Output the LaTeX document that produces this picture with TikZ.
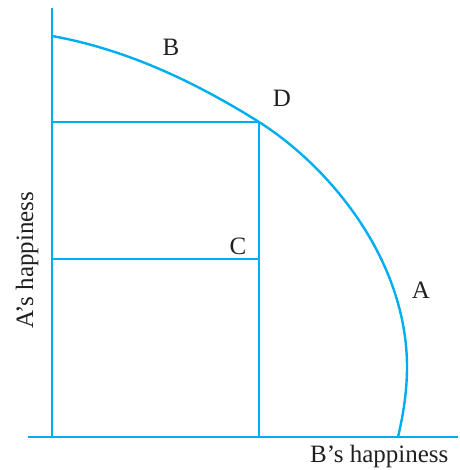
\documentclass[tikz,border=0pt]{standalone}
\usepackage{fontspec}
\setmainfont{Liberation Serif}
\definecolor{lineblue}{HTML}{00AEEF}
\definecolor{txt}{HTML}{231F20}
\begin{document}
\begin{tikzpicture}[x=1pt,y=-1pt,
  axis/.style={draw=lineblue,line width=2.4pt},
  lbl/.style={text=txt,font=\fontsize{25}{30}\selectfont,inner sep=0pt,anchor=base}]
\useasboundingbox (0,0) rectangle (459,470);
\coordinate (ytop) at (52,8);
\coordinate (origin) at (52,437);
\coordinate (xleft) at (28,437);
\coordinate (xright) at (458,437);
\coordinate (top) at (52,36);
\coordinate (D) at (259,122);
\coordinate (Dleft) at (52,122);
\coordinate (Cleft) at (52,259);
\coordinate (C) at (259,259);
\coordinate (Dfoot) at (259,437);
\coordinate (R) at (407,367);
\coordinate (end) at (398,437);
\draw[axis] (ytop) -- (origin);
\draw[axis] (xleft) -- (xright);
\draw[axis] (Dleft) -- (D) -- (Dfoot);
\draw[axis] (Cleft) -- (C);
\draw[axis] (top) .. controls (130,50) and (200,85) .. (D)
  .. controls (330,167) and (407,260) .. (R)
  .. controls (407,395) and (402,420) .. (end);
\node[lbl] (lB) at (171,56) {B};
\node[lbl] (lD) at (282,107) {D};
\node[lbl] (lC) at (238,254) {C};
\node[lbl] (lA) at (421,298) {A};
\node[lbl,anchor=base west] (xl) at (310,462) {B’s happiness};
\node[lbl,rotate=90] (yl) at (33,260) {A’s happiness};
\end{tikzpicture}
\end{document}
